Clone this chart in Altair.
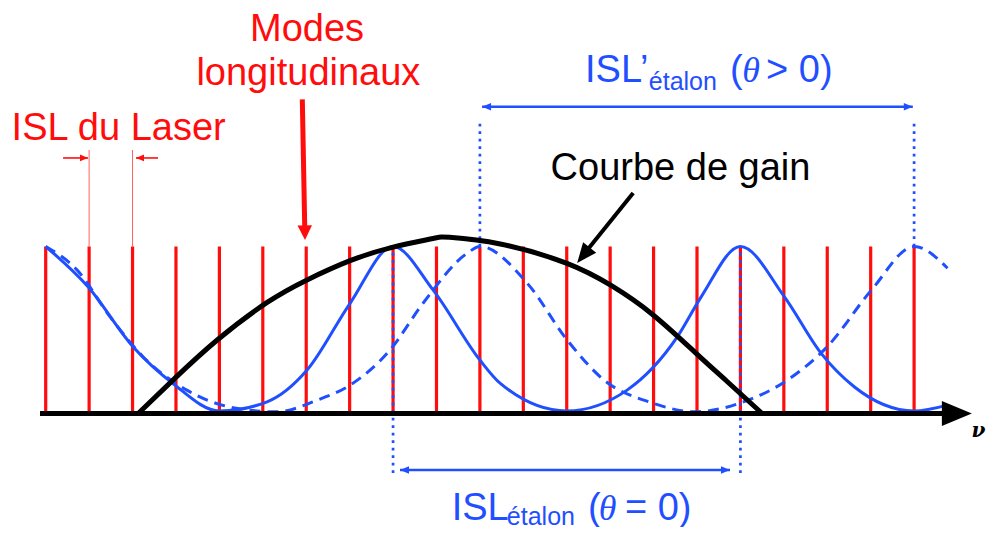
import altair as alt
import pandas as pd

RED = "#ff0d0d"
BLUE = "#1f4fff"
BLACK = "#000000"

# ---- data (x: frequency in units of the laser FSR, y: relative intensity) ----
mode_index = [0, 1, 2, 3, 4, 5, 6, 7, 8, 9, 10, 11, 12, 13, 14, 15, 16, 17, 18, 19, 20]
mode_height = [1.0] * 21

gain_n = [2.13, 2.93, 3.95, 5.10, 6.02, 7.01, 7.98, 8.92, 9.30, 10.47, 11.99, 13.03, 13.99, 14.98, 15.70, 16.50]
gain_I = [0.00, 0.20, 0.44, 0.665, 0.80, 0.915, 0.995, 1.048, 1.055, 1.015, 0.90, 0.765, 0.59, 0.36, 0.19, 0.00]

etalon0_n = [0.0, 0.97, 2.01, 2.93, 4.0, 5.1, 6.02, 7.01, 8.0, 8.92, 10.0, 10.47, 12.0, 13.39, 14.55, 15.1, 16.0, 17.01, 17.86, 18.62, 20.0, 20.77]
etalon0_I = [1.0, 0.76, 0.40, 0.18, 0.015, 0.07, 0.26, 0.66, 1.0, 0.74, 0.32, 0.18, 0.015, 0.14, 0.46, 0.70, 1.0, 0.70, 0.36, 0.16, 0.015, 0.05]

etalon1_n = [0.0, 0.72, 1.48, 2.24, 3.25, 4.31, 5.33, 6.25, 7.01, 7.93, 8.69, 9.71, 10.0, 11.09, 12.01, 12.86, 13.95, 14.94, 16.02, 17.08, 18.0, 19.02, 20.0, 20.77]
etalon1_I = [1.0, 0.86, 0.58, 0.34, 0.14, 0.035, 0.01, 0.08, 0.17, 0.38, 0.66, 0.96, 1.0, 0.78, 0.44, 0.20, 0.065, 0.01, 0.065, 0.20, 0.40, 0.74, 1.0, 0.87]

fsr_etalon_0 = [8, 16]     # peaks of the theta = 0 transmission used for the ISL marker
fsr_etalon_1 = [10, 20]    # peaks of the theta > 0 transmission

# ---- scales ----
XS = alt.Scale(domain=[-0.8683, 21.656], nice=False, zero=False)
YS = alt.Scale(domain=[-0.6796, 2.428], nice=False, zero=False)


def X(f="n"):
    return alt.X(f"{f}:Q", scale=XS, axis=None)


def Y(f="I"):
    return alt.Y(f"{f}:Q", scale=YS, axis=None)


HEAD = "M0,0L-0.5,1L0.5,1Z"
HEAD2 = "M0,0L-0.42,1L0.42,1Z"

layers = []

# longitudinal modes
modes = pd.DataFrame({"n": mode_index, "I0": [0.0] * 21, "I": mode_height})
layers.append(alt.Chart(modes).mark_rule(color=RED, strokeWidth=3.2).encode(x=X(), y=Y("I0"), y2="I"))

# thin ISL-laser guides
guides = pd.DataFrame({"n": [1, 2], "I0": [1.0, 1.0], "I": [1.578, 1.578]})
layers.append(alt.Chart(guides).mark_rule(color="#ff6060", strokeWidth=1).encode(x=X(), y=Y("I0"), y2="I"))

# etalon transmissions
e0 = pd.DataFrame({"n": etalon0_n, "I": etalon0_I})
layers.append(alt.Chart(e0).mark_line(color=BLUE, strokeWidth=3, interpolate="monotone").encode(x=X(), y=Y()))
e1 = pd.DataFrame({"n": etalon1_n, "I": etalon1_I})
layers.append(alt.Chart(e1).mark_line(color=BLUE, strokeWidth=3, strokeDash=[11, 7], interpolate="monotone").encode(x=X(), y=Y()))

# dotted markers
d0 = pd.DataFrame({"n": fsr_etalon_0, "I0": [-0.356, -0.356], "I": [1.0, 1.0]})
d1 = pd.DataFrame({"n": fsr_etalon_1, "I0": [1.0, 1.0], "I": [1.757, 1.757]})
for d in (d0, d1):
    layers.append(alt.Chart(d).mark_rule(color=BLUE, strokeWidth=2.7, strokeDash=[2.7, 4.8]).encode(x=X(), y=Y("I0"), y2="I"))

# gain curve
g = pd.DataFrame({"n": gain_n, "I": gain_I})
layers.append(alt.Chart(g).mark_line(color=BLACK, strokeWidth=5, interpolate="natural").encode(x=X(), y=Y()))

# frequency axis
axis_df = pd.DataFrame({"n": [-0.131], "n2": [20.75], "I": [0.0]})
layers.append(alt.Chart(axis_df).mark_rule(color=BLACK, strokeWidth=5).encode(x=X(), x2="n2", y=Y()))
axis_head = pd.DataFrame({"n": [21.33], "I": [0.0], "a": [90]})
layers.append(alt.Chart(axis_head).mark_point(shape=HEAD2, filled=True, color=BLACK, opacity=1, size=3600, strokeWidth=0)
              .encode(x=X(), y=Y(), angle=alt.Angle("a:Q", scale=None)))

# arrow shafts (straight segments)
shafts = [
    # n, I, n2, I2, colour, width
    (10.05, 1.837, 19.97, 1.837, BLUE, 2.6),
    (8.16, -0.338, 15.76, -0.338, BLUE, 2.6),
    (0.40, 1.530, 0.974, 1.530, RED, 1.6),
    (2.586, 1.530, 2.08, 1.530, RED, 1.6),
    (5.91, 1.881, 5.967, 1.099, RED, 5),
    (13.53, 1.320, 12.45, 0.971, BLACK, 4),
]
for (a, b, c, d, col, w) in shafts:
    sd = pd.DataFrame({"n": [a], "I": [b], "n2": [c], "I2": [d]})
    layers.append(alt.Chart(sd).mark_rule(color=col, strokeWidth=w).encode(x=X(), y=Y(), x2="n2", y2="I2"))

heads = [
    # n, I, angle, colour, size, shape
    (10.05, 1.837, 270, BLUE, 324, HEAD2),
    (19.97, 1.837, 90, BLUE, 324, HEAD2),
    (8.16, -0.338, 270, BLUE, 324, HEAD2),
    (15.76, -0.338, 90, BLUE, 324, HEAD2),
    (0.974, 1.530, 90, RED, 256, HEAD2),
    (2.08, 1.530, 270, RED, 256, HEAD2),
    (5.972, 1.039, 179, RED, 841, HEAD),
    (12.24, 0.901, 218.7, BLACK, 1600, HEAD2),
]
for (a, b, ang, col, s, shp) in heads:
    hd = pd.DataFrame({"n": [a], "I": [b], "a": [ang]})
    layers.append(alt.Chart(hd).mark_point(shape=shp, filled=True, color=col, opacity=1, size=s, strokeWidth=0)
                  .encode(x=X(), y=Y(), angle=alt.Angle("a:Q", scale=None)))


# ---- texts ----
def text_layer(rows, color, size, font="Liberation Sans", align="left", style="normal", weight="normal"):
    df = pd.DataFrame(rows, columns=["label", "n", "I"])
    return alt.Chart(df).mark_text(color=color, fontSize=size, font=font, align=align, baseline="alphabetic",
                                   fontStyle=style, fontWeight=weight).encode(x=X(), y=Y(), text="label:N")


layers.append(text_layer([("Modes", 6.02, 2.2305), ("longitudinaux", 6.05, 1.967), ("ISL du Laser", 1.68, 1.638)],
                         RED, 38, align="center"))
layers.append(text_layer([("Courbe de gain", 14.62, 1.398)], BLACK, 38, align="center"))
layers.append(text_layer([("ISL\u2019", 12.42, 1.987), ("(", 15.76, 1.987), ("> 0)", 16.59, 1.987),
                          ("ISL", 9.35, -0.6377), ("(", 12.49, -0.6377), ("= 0)", 13.34, -0.6377)], BLUE, 38))
layers.append(text_layer([("étalon", 13.89, 1.937), ("étalon", 10.62, -0.6706)], BLUE, 25))
layers.append(text_layer([("θ", 16.04, 1.987), ("θ", 12.74, -0.6377)], BLUE, 36, font="Liberation Serif", style="italic"))
layers.append(text_layer([("ν", 21.48, -0.141)], BLACK, 20, font="DejaVu Serif", align="center", style="italic", weight="bold"))

chart = alt.layer(*layers).properties(
    width=978, height=519, padding=0, autosize=alt.AutoSizeParams(type="none")
).configure(background="white").configure_view(stroke=None, strokeWidth=0)

chart.save("out.html", embed_options={"renderer": "svg", "actions": False})
